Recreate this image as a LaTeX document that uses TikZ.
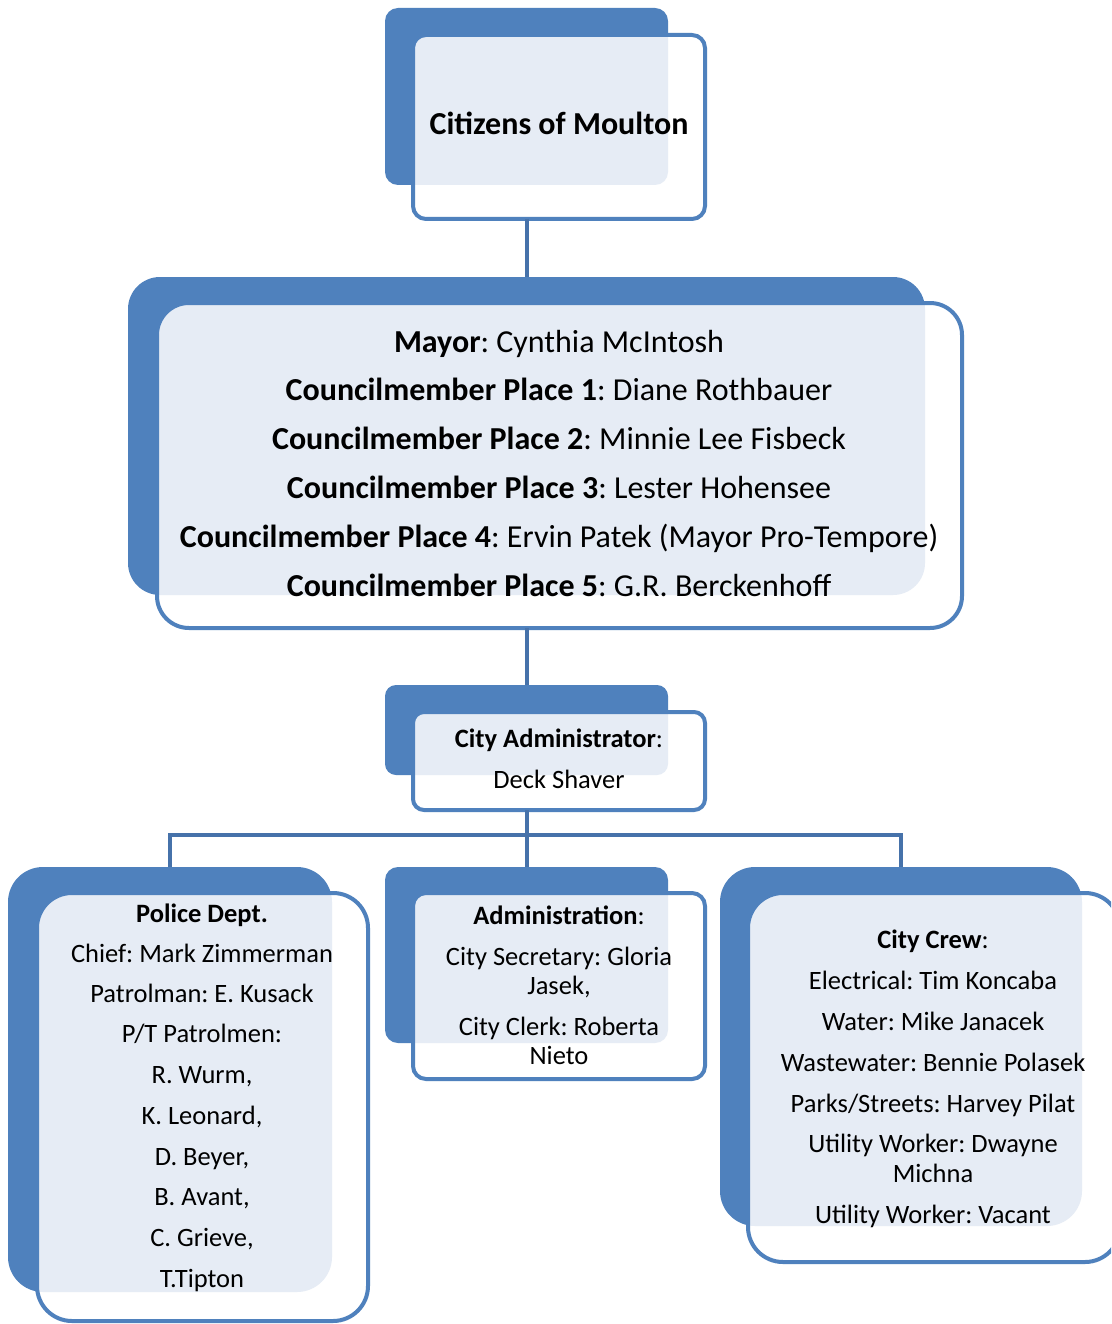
\documentclass[tikz,border=0pt]{standalone}
\usepackage{fontspec}
\setmainfont{Carlito}
\frenchspacing
\usetikzlibrary{fit}
\definecolor{bb}{HTML}{4F81BD}
\definecolor{ov}{HTML}{E6ECF5}
\definecolor{cn}{HTML}{4672AA}
\tikzset{
  backfill/.style={fill=bb},
  frontline/.style={draw=bb, line width=4pt},
  conn/.style={draw=cn, line width=4pt},
  big/.style={font=\fontsize{32}{38}\selectfont},
  small/.style={font=\fontsize{26.5}{30}\selectfont},
  ln/.style={anchor=base, inner sep=0pt},
  hold/.style={inner sep=0pt, outer sep=0pt, draw=none},
}
\newcommand\OrgBox[6]{%
  \fill[backfill, rounded corners=#6] #2 rectangle #3;
  \fill[white, rounded corners=#6] #4 rectangle #5;
  \begin{scope}
    \clip[rounded corners=#6] #4 rectangle #5;
    \fill[ov, rounded corners=#6] #2 rectangle #3;
  \end{scope}
  \draw[frontline, rounded corners=#6] #4 rectangle #5;
  \node[hold, fit={#2 #3}] (#1b) {};
  \node[hold, fit={#4 #5}] (#1) {};
}
\begin{document}
\begin{tikzpicture}[x=1pt, y=-1pt]
\useasboundingbox (0,0) rectangle (1111,1324);
\clip (0,0) rectangle (1111,1324);
\fill[white] (0,0) rectangle (1111,1324);

\OrgBox{cit}{(385,8)}{(668,185)}{(413,35)}{(705,219)}{13pt}
\OrgBox{may}{(128,277)}{(925,595)}{(157,303)}{(962,628)}{32pt}
\OrgBox{adm}{(385,685)}{(668,775)}{(413,712)}{(705,810)}{11pt}
\OrgBox{pol}{(8,867)}{(332,1292)}{(37,893)}{(368,1321)}{35pt}
\OrgBox{ads}{(385,867)}{(668,1043)}{(413,893)}{(705,1079)}{13pt}
\OrgBox{crw}{(720,867)}{(1082,1226)}{(748,893)}{(1120,1262)}{35pt}

\coordinate (bus) at (526.5,835);
\draw[conn] (cit.south -| citb.south) -- (mayb.north);
\draw[conn] (may.south -| mayb.south) -- (admb.north);
\draw[conn] (adm.south -| admb.south) -- (bus);
\draw[conn] (bus) -- (adsb.north);
\draw[conn] (polb.north) |- (bus) -| (crwb.north);

\node[ln,big] (t1) at (559,135) {\textbf{Citizens of Moulton}};

\node[ln,big] (m1) at (559,352) {\textbf{Mayor}: Cynthia McIntosh};
\node[ln,big] (m2) at (559,400) {\textbf{Councilmember Place 1}: Diane Rothbauer};
\node[ln,big] (m3) at (559,449) {\textbf{Councilmember Place 2}: Minnie Lee Fisbeck};
\node[ln,big] (m4) at (559,498) {\textbf{Councilmember Place 3}: Lester Hohensee};
\node[ln,big] (m5) at (559,547) {\textbf{Councilmember Place 4}: Ervin Patek (Mayor Pro-Tempore)};
\node[ln,big] (m6) at (559,596) {\textbf{Councilmember Place 5}: G.R. Berckenhoff};

\node[ln,small] (a1) at (559,747) {\textbf{City Administrator}:};
\node[ln,small] (a2) at (559,788) {Deck Shaver};

\node[ln,small] (p1) at (202,922) {\textbf{Police Dept.}};
\node[ln,small] (p2) at (202,962) {Chief: Mark Zimmerman};
\node[ln,small] (p3) at (202,1002) {Patrolman: E. Kusack};
\node[ln,small] (p4) at (202,1042) {P/T Patrolmen:};
\node[ln,small] (p5) at (202,1083) {R. Wurm,};
\node[ln,small] (p6) at (202,1124) {K. Leonard,};
\node[ln,small] (p7) at (202,1165) {D. Beyer,};
\node[ln,small] (p8) at (202,1205) {B. Avant,};
\node[ln,small] (p9) at (202,1246) {C. Grieve,};
\node[ln,small] (p10) at (202,1287) {T.Tipton};

\node[ln,small] (s1) at (559,924) {\textbf{Administration}:};
\node[ln,small] (s2) at (559,965) {City Secretary: Gloria};
\node[ln,small] (s3) at (559,994) {Jasek,};
\node[ln,small] (s4) at (559,1035) {City Clerk: Roberta};
\node[ln,small] (s5) at (559,1064) {Nieto};

\node[ln,small] (c1) at (933,948) {\textbf{City Crew}:};
\node[ln,small] (c2) at (933,989) {Electrical: Tim Koncaba};
\node[ln,small] (c3) at (933,1030) {Water: Mike Janacek};
\node[ln,small] (c4) at (933,1071) {Wastewater: Bennie Polasek};
\node[ln,small] (c5) at (933,1112) {Parks/Streets: Harvey Pilat};
\node[ln,small] (c6) at (933,1152) {Utility Worker: Dwayne};
\node[ln,small] (c7) at (933,1182) {Michna};
\node[ln,small] (c8) at (933,1223) {Utility Worker: Vacant};
\end{tikzpicture}
\end{document}
